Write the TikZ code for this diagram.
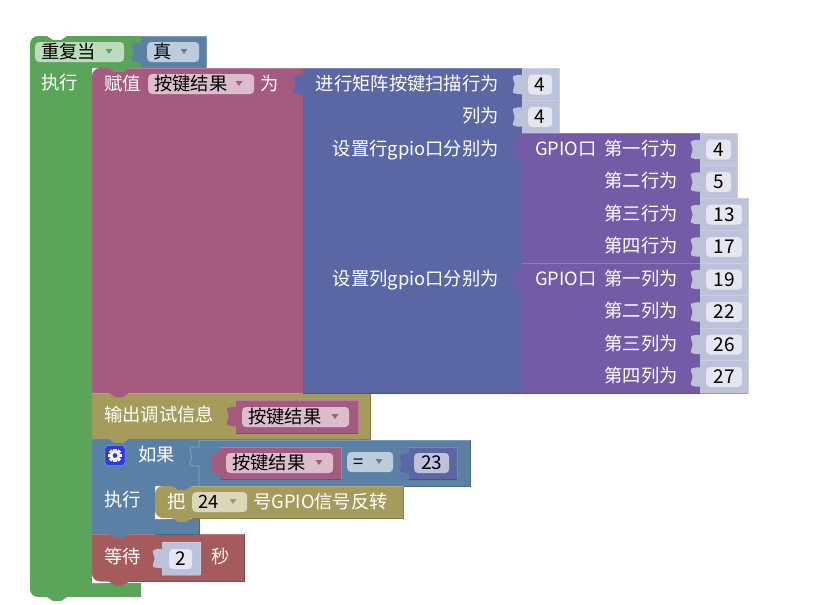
\documentclass[tikz,border=0pt]{standalone}
\usepackage{fontspec}
\setmainfont{Noto Sans CJK SC}
\usepackage{xcolor}
\definecolor{cLoop}{HTML}{5BA55B}
\definecolor{cLogic}{HTML}{5B80A5}
\definecolor{cVar}{HTML}{A55B80}
\definecolor{cKey}{HTML}{5B67A5}
\definecolor{cGpio}{HTML}{745BA5}
\definecolor{cPrint}{HTML}{A59B5B}
\definecolor{cWait}{HTML}{A55B5B}
\definecolor{cNum}{HTML}{BDC2DB}
\definecolor{cNumF}{HTML}{E4E6F0}
\definecolor{cLoopF}{HTML}{BDDBBD}
\definecolor{cLogicF}{HTML}{BDCCDB}
\definecolor{cVarF}{HTML}{DBBDCC}
\definecolor{cPrintF}{HTML}{DBD7BD}
\definecolor{cGear}{HTML}{2A3CE0}
\usetikzlibrary{positioning}
\tikzset{
  lbl/.style={font=\fontsize{18.3}{20}\selectfont,inner sep=0pt,text=white,anchor=base west},
  lbl-r/.style={lbl,anchor=base east},
  field/.style={draw=none,rounded corners=4pt,inner sep=0pt,minimum height=20pt,
    anchor=west,text=black,font=\fontsize{19}{20}\selectfont},
  fieldtxt/.style={lbl,text=black},
  edge-hi/.style={line width=.7pt,draw=#1!80!white},
  edge-lo/.style={line width=.7pt,draw=#1!80!black},
}
% path pieces, all run in picture pixels with y going down
\newcommand\ltab[2]{-- (#1,#2-1) .. controls (#1-3,#2-1) and (#1-6,#2-1.5) .. (#1-8.5,#2)
  .. controls (#1-10.5,#2+1.5) and (#1-7.5,#2+5) .. (#1-7.5,#2+8.5)
  .. controls (#1-7.5,#2+12) and (#1-10.5,#2+15.5) .. (#1-8.5,#2+17)
  .. controls (#1-6,#2+18.5) and (#1-3,#2+18) .. (#1,#2+18)}
\newcommand\topnotch[2]{-- (#1+17,#2) -- (#1+23,#2+4) -- (#1+31,#2+4) -- (#1+37,#2)}
\newcommand\bottab[2]{-- (#1+37,#2) -- (#1+31,#2+4) -- (#1+23,#2+4) -- (#1+17,#2)}
% top left and bottom left round corners
\newcommand\cornertl[2]{(#1,#2+8) .. controls (#1,#2+3.6) and (#1+3.6,#2) .. (#1+8,#2)}
\newcommand\cornerbl[2]{-- (#1+8,#2) .. controls (#1+3.6,#2) and (#1,#2-3.6) .. (#1,#2-8)}
% a block with a tab on the left: colour, x1, y1, x2, y2
\newcommand\valblock[5]{
  \fill[#1] (#2,#3) \ltab{#2}{#3+8} -- (#2,#5) -- (#4,#5) -- (#4,#3) -- cycle;
  \draw[edge-hi=#1] (#2,#3) -- (#4,#3) -- (#4,#5);
  \draw[edge-lo=#1] (#2,#5) -- (#4,#5);
}
% a drop-down field: name, x1, x2, y of baseline, colour, block colour, text, x of arrow
\newcommand\dropfield[8]{
  \node[field,fill=#5,minimum width=#3-#2] (#1) at (#2,#4-6) {};
  \node[fieldtxt] (#1-t) at (#2+6,#4) {#7};
  \fill[#6] (#8-3.5,#4-9) -- (#8+3.5,#4-9) -- (#8,#4-4) -- cycle;
}
\newcommand\innergap[2]{
  \fill[white] (#1,#2-9) .. controls (#1,#2-3) and (#1+4,#2+2) .. (#1+11,#2+2) -- (#1,#2+2) -- cycle;
}
\begin{document}
\begin{tikzpicture}[x=1pt,y=-1pt]
  \useasboundingbox (0,0) rectangle (838,605);
  % outer loop
  \fill[cLoop] \cornertl{30}{36} \topnotch{30}{36}
    -- (141,36) -- (141,68) \bottab{92}{68} -- (92,68) -- (92,583) -- (141,583) -- (141,597) \bottab{30}{597}
    \cornerbl{30}{597} -- cycle;
  \innergap{92}{581}
  \valblock{cLogic}{141}{36}{206}{68}
  \dropfield{fTrue}{147}{199}{58}{cLogicF}{cLogic}{真}{184}
  \dropfield{fLoop}{35}{124}{58}{cLoopF}{cLoop}{重复当}{109}
  \node[lbl] (lDo) at (41,89) {执行};
  % wait
  \fill[cWait] (92,534) -- (244,534) -- (244,581.5) \bottab{92}{581.5}
    \cornerbl{92}{581.5} -- cycle;
  \draw[edge-lo=cWait] (129,581.5) -- (244,581.5) -- (244,534);
  \draw[edge-hi=cWait] (92,534) -- (244,534);
  \node[lbl] (lWait) at (104,563) {等待};
  \valblock{cNum}{162}{542}{200}{575}
  \node[field,fill=cNumF,minimum width=23pt] (fSec) at (169,559) {2};
  \node[lbl] (lSec) at (211,563) {秒};
  % if block
  \fill[cLogic] (92,439) -- (199,439) -- (199,486) \bottab{155}{486} -- (155,486) -- (155,519) -- (199,519) -- (199,534)
    \bottab{92}{534} -- (92,534) -- cycle;
  \draw[edge-lo=cLogic] (155,534) -- (199,534) -- (199,519);
  \fill[cLogic] (199,440) -- (470,440) -- (470,486) -- (199,486) -- cycle;
  \draw[edge-hi=cLogic] (199,440) -- (470,440);
  \draw[edge-lo=cLogic] (199,486) -- (470,486) -- (470,440);
  \draw[cLogic!70!white,line width=.7pt] (199,440) \ltab{199}{448} -- (199,486);
  \node[draw=white!60!cGear,fill=cGear,rounded corners=3pt,minimum size=20pt,inner sep=0pt] (gear) at (115,455.5) {};
  \foreach \ang in {0,45,...,315}
    \fill[white,rotate around={\ang:(115,455.5)}] (113.4,448.6) rectangle (116.6,452);
  \fill[white] (115,455.5) circle[radius=5.2pt];
  \fill[cGear] (115,455.5) circle[radius=2.4pt];
  \node[lbl] (lIf) at (138,461) {如果};
  \node[lbl] (lThen) at (104,506) {执行};
  \valblock{cVar}{220}{447}{341}{479}
  \dropfield{fCmpVar}{226}{333}{469}{cVarF}{cVar}{按键结果}{319}
  \dropfield{fOp}{347}{393}{468}{cLogicF}{cLogic}{=}{379}
  \valblock{cKey}{409}{447}{457}{479}
  \node[field,fill=cNum,minimum width=35pt] (f23) at (414,463) {23};
  % toggle block
  \innergap{155}{517}
  \fill[cPrint] \cornertl{155}{486} \topnotch{155}{486}
    -- (403,486) -- (403,518) \bottab{155}{518} \cornerbl{155}{518} -- cycle;
  \draw[edge-lo=cPrint] (192,518) -- (403,518) -- (403,486);
  \draw[edge-hi=cPrint] (192,486) -- (403,486);
  \node[lbl] (lPin) at (167,508) {把};
  \dropfield{fPin}{192}{247}{508}{cPrintF}{cPrint}{24}{233}
  \node[lbl] (lToggle) at (253,508) {号GPIO信号反转};
  % print
  \fill[cPrint] (92,393) -- (370,393) -- (370,439) \bottab{92}{439} -- (92,439) -- cycle;
  \draw[edge-hi=cPrint] (92,393) -- (370,393);
  \draw[edge-lo=cPrint] (370,393) -- (370,439) -- (129,439);
  \node[lbl] (lPrint) at (104,421) {输出调试信息};
  \valblock{cVar}{236}{400}{358}{433}
  \dropfield{fPrintVar}{242}{349}{423}{cVarF}{cVar}{按键结果}{335}
  % assign
  \fill[cVar] \cornertl{92}{68} \topnotch{92}{68}
    -- (303,68) -- (303,393) \bottab{92}{393} -- (92,393) -- cycle;
  \draw[edge-hi=cVar] (129,68) -- (303,68);
  \node[lbl] (lSet) at (104,90) {赋值};
  \dropfield{fVar}{148}{254}{90}{cVarF}{cVar}{按键结果}{239}
  \node[lbl] (lAs) at (260,90) {为};
  % matrix key scan
  \fill[cKey] (303,68) \ltab{303}{76} -- (303,393) -- (522,393) -- (522,68) -- cycle;
  \draw[edge-hi=cKey] (303,68) -- (522,68);
  \draw[edge-lo=cKey] (303,393) -- (522,393);
  \node[lbl-r] (lScan) at (499,90) {进行矩阵按键扫描行为};
  \node[lbl-r] (lCols) at (499,122) {列为};
  \node[lbl-r] (lRowPins) at (499,155) {设置行gpio口分别为};
  \node[lbl-r] (lColPins) at (499,285) {设置列gpio口分别为};
  \foreach \rowy/\rowval in {68/4,100.5/4}{
    \valblock{cNum}{522}{\rowy}{559}{\rowy+32.5}
    \node[field,fill=cNumF,minimum width=24pt] (fKey\rowval) at (528,\rowy+16.5) {\rowval};
  }
  % gpio groups
  \foreach \topy/\word in {133/行,263/列}{
    \fill[cGpio] (522,\topy) \ltab{522}{\topy+8} -- (522,\topy+130) -- (700,\topy+130) -- (700,\topy) -- cycle;
    \draw[edge-hi=cGpio] (522,\topy) -- (700,\topy);
    \draw[edge-lo=cGpio] (522,\topy+130) -- (700,\topy+130);
    \node[lbl] (lGpio\word) at (535,\topy+22) {GPIO口};
    \node[lbl-r] (lA\word) at (678,\topy+22) {第一\word 为};
    \node[lbl-r] (lB\word) at (678,\topy+54.5) {第二\word 为};
    \node[lbl-r] (lC\word) at (678,\topy+87) {第三\word 为};
    \node[lbl-r] (lD\word) at (678,\topy+119.5) {第四\word 为};
  }
  \foreach \rowy/\rowval/\blkw in {133/4/37,165.5/5/37,198/13/48,230.5/17/48,263/19/48,295.5/22/48,328/26/48,360.5/27/48}{
    \valblock{cNum}{700}{\rowy}{700+\blkw}{\rowy+32.5}
    \node[field,fill=cNumF,minimum width=\blkw-12] (fPin\rowval) at (706,\rowy+16.5) {\rowval};
  }
\end{tikzpicture}
\end{document}
